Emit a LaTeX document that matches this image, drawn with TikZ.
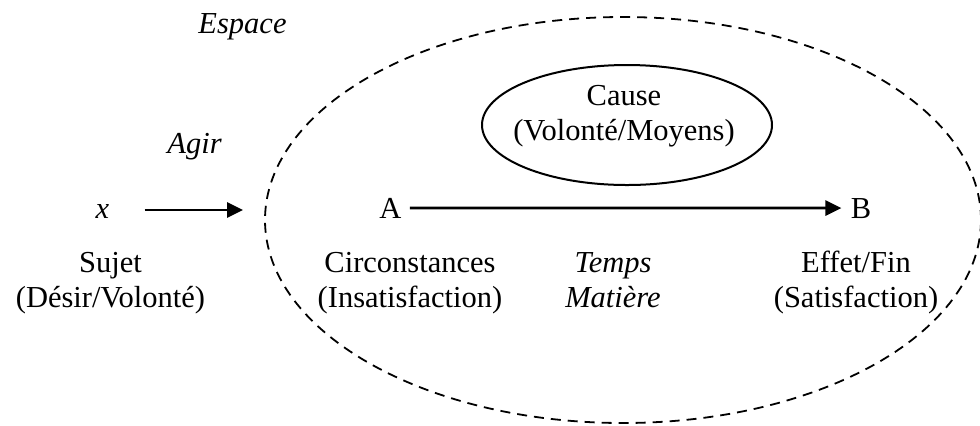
\documentclass[tikz,border=0pt]{standalone}
\usepackage{fontspec}
\setmainfont{Liberation Serif}
\usetikzlibrary{arrows.meta,shapes.geometric}
\begin{document}
\begin{tikzpicture}[x=0.5pt,y=-0.5pt,
  lbl/.style={font=\fontsize{15.25}{17.5}\selectfont, inner sep=0pt, align=center, anchor=base},
  ital/.style={font=\fontsize{15.25}{17.5}\selectfont\itshape, inner sep=0pt, align=center, anchor=base},
  arr/.style={line width=1.4pt, -{Triangle[length=8pt,width=7.5pt]}},
  spacebox/.style={draw, dashed, dash pattern=on 5pt off 3.5pt, line width=0.9pt, ellipse, inner sep=0pt},
  causebox/.style={draw, line width=1pt, ellipse, inner sep=0pt}
]
\useasboundingbox (0,0) rectangle (980,425);
% outer space ellipse
\node[spacebox, minimum width=358pt, minimum height=203pt] (espace) at (623,220) {};
% cause ellipse
\node[causebox, minimum width=145pt, minimum height=60pt] (causebox) at (627,125) {};
\node[lbl] (cause) at (624,140) {Cause\\(Volonté/Moyens)};
% labels
\node[ital] (espacelbl) at (242.5,33) {Espace};
\node[ital] (agir) at (194.5,153) {Agir};
\node[ital] (xn) at (102.5,218) {x};
\node[lbl] (sujet) at (110.5,307) {Sujet\\(Désir/Volonté)};
\node[lbl] (A) at (390.5,218) {A};
\node[lbl] (B) at (861,218) {B};
\node[lbl] (circ) at (410,307) {Circonstances\\(Insatisfaction)};
\node[ital] (temps) at (613,307) {Temps\\Matière};
\node[lbl] (effet) at (856,307) {Effet/Fin\\(Satisfaction)};
% connectors
\coordinate (xend) at (243,210);
\draw[arr, shorten <=17.5pt] (xn.east |- xend) -- (xend);
\draw[arr, shorten <=4pt, shorten >=4.5pt] (A.east) -- (B.west);
\end{tikzpicture}
\end{document}
